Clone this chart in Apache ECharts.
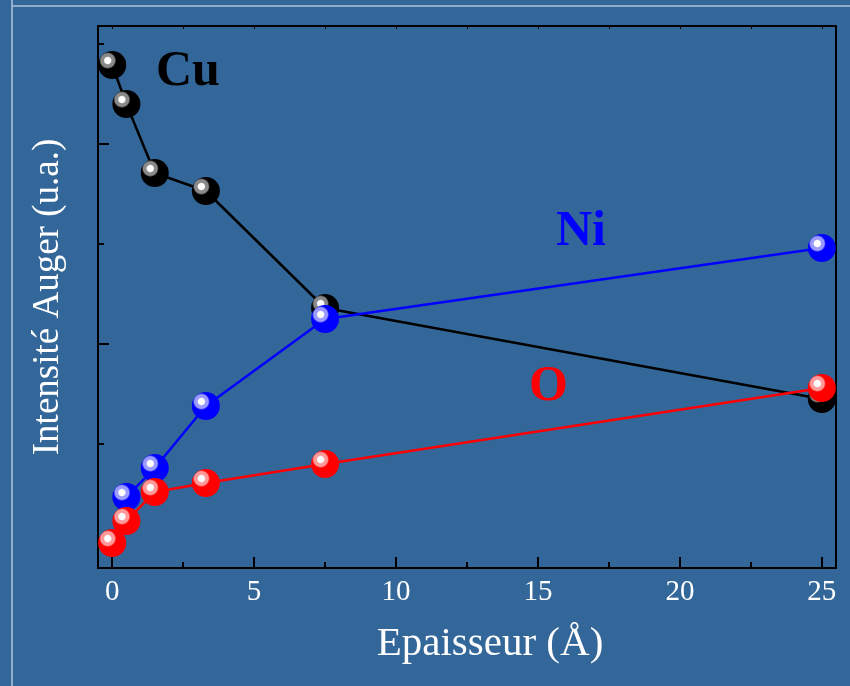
<!DOCTYPE html>
<html>
<head>
<meta charset="utf-8">
<script src="https://cdn.jsdelivr.net/npm/echarts@6/dist/echarts.min.js"></script>
<style>
html,body{margin:0;padding:0;background:#336699;}
#c{width:850px;height:686px;}
</style>
</head>
<body>
<div id="c"></div>
<script>
// Data (thickness in Å, Auger intensity in arbitrary units)
var thickCu = [0, 0.5, 1.5, 3.3, 7.5, 25];
var cuValues = [4.79, 4.40, 3.71, 3.53, 2.36, 1.45];
var thickNi = [0.5, 1.5, 3.3, 7.5, 25];
var niValues = [0.47, 0.76, 1.38, 2.25, 2.96];
var thickO = [0, 0.5, 1.5, 3.3, 7.5, 25];
var oValues = [0.01, 0.23, 0.52, 0.61, 0.80, 1.56];
var xMajorTicks = [0, 5, 10, 15, 20, 25];
var xMinorTicks = [2.5, 7.5, 12.5, 17.5, 22.5];
var xTopTicks = [0, 2.5, 5, 7.5, 10, 12.5, 15, 17.5, 20, 22.5, 25];
var yMajorTicks = [0, 2, 4];
var yMinorTicks = [1, 3, 5];

function pairs(xs, ys) { return xs.map(function (x, i) { return [x, ys[i]]; }); }

function sphere(base, ring) {
  return {
    type: 'radial', x: 0.34, y: 0.34, r: 0.72,
    colorStops: [
      {offset: 0, color: '#ffffff'},
      {offset: 0.15, color: '#ffffff'},
      {offset: 0.21, color: ring},
      {offset: 0.34, color: ring},
      {offset: 0.42, color: base},
      {offset: 1, color: base}
    ]
  };
}

var SERIF = '"Liberation Serif", "DejaVu Serif", serif';
var gridRect = {left: 98, right: 14, top: 26, bottom: 118};
var XMIN = -0.5, XMAX = 25.5, YMIN = -0.24, YMAX = 5.18;

function mkSeries(name, xs, ys, color, ring) {
  return {
    name: name, type: 'line', xAxisIndex: 0, yAxisIndex: 0,
    data: pairs(xs, ys),
    symbol: 'circle', symbolSize: 28,
    lineStyle: {color: color, width: 2.5},
    itemStyle: {color: sphere(color, ring)},
    z: 3
  };
}

var chart = echarts.init(document.getElementById('c'));
chart.setOption({
  backgroundColor: '#336699',
  animation: false,
  grid: [
    Object.assign({}, gridRect),
    Object.assign({}, gridRect),
    Object.assign({}, gridRect)
  ],
  xAxis: [
    {
      type: 'value', gridIndex: 0, position: 'bottom', min: XMIN, max: XMAX,
      axisLine: {show: true, onZero: false, lineStyle: {color: '#000', width: 2}},
      axisTick: {show: true, inside: true, length: 11, customValues: xMajorTicks, lineStyle: {color: '#000', width: 2}},
      axisLabel: {show: true, customValues: xMajorTicks, margin: 10, color: '#ffffff', fontFamily: SERIF, fontSize: 29},
      splitLine: {show: false},
      name: 'Epaisseur (Å)', nameLocation: 'middle', nameGap: 56,
      nameTextStyle: {color: '#ffffff', fontFamily: SERIF, fontSize: 41, padding: [0, 0, 0, 46]}
    },
    {
      type: 'value', gridIndex: 1, position: 'bottom', min: XMIN, max: XMAX,
      axisLine: {show: false, onZero: false},
      axisTick: {show: true, inside: true, length: 6, customValues: xMinorTicks, lineStyle: {color: '#000', width: 2}},
      axisLabel: {show: false}, splitLine: {show: false}
    },
    {
      type: 'value', gridIndex: 2, position: 'top', min: XMIN, max: XMAX,
      axisLine: {show: true, onZero: false, lineStyle: {color: '#000', width: 2}},
      axisTick: {show: true, inside: true, length: 3, customValues: xTopTicks, lineStyle: {color: '#000', width: 1}},
      axisLabel: {show: false}, splitLine: {show: false}
    }
  ],
  yAxis: [
    {
      type: 'value', gridIndex: 0, position: 'left', min: YMIN, max: YMAX,
      axisLine: {show: true, onZero: false, lineStyle: {color: '#000', width: 2}},
      axisTick: {show: true, inside: true, length: 11, customValues: yMajorTicks, lineStyle: {color: '#000', width: 2}},
      axisLabel: {show: false}, splitLine: {show: false},
      name: 'Intensité Auger (u.a.)', nameLocation: 'middle', nameGap: 31, nameRotate: 90,
      nameTextStyle: {color: '#ffffff', fontFamily: SERIF, fontSize: 37}
    },
    {
      type: 'value', gridIndex: 1, position: 'left', min: YMIN, max: YMAX,
      axisLine: {show: false, onZero: false},
      axisTick: {show: true, inside: true, length: 6, customValues: yMinorTicks, lineStyle: {color: '#000', width: 2}},
      axisLabel: {show: false}, splitLine: {show: false}
    },
    {
      type: 'value', gridIndex: 2, position: 'right', min: YMIN, max: YMAX,
      axisLine: {show: true, onZero: false, lineStyle: {color: '#000', width: 2}},
      axisTick: {show: false}, axisLabel: {show: false}, splitLine: {show: false}
    }
  ],
  series: [
    mkSeries('Cu', thickCu, cuValues, '#000000', '#8a8a8a'),
    mkSeries('Ni', thickNi, niValues, '#0000ff', '#9a9aff'),
    mkSeries('O', thickO, oValues, '#ff0000', '#ff9a9a')
  ],
  graphic: [
    {type: 'line', shape: {x1: 12, y1: 0, x2: 12, y2: 686}, style: {stroke: '#8fadcc', lineWidth: 2}, silent: true},
    {type: 'line', shape: {x1: 11, y1: 6, x2: 850, y2: 6}, style: {stroke: '#8fadcc', lineWidth: 2}, silent: true},
    {type: 'text', left: 156, top: 47, style: {text: 'Cu', fill: '#000000', font: 'bold 50px ' + SERIF}},
    {type: 'text', left: 556, top: 207, style: {text: 'Ni', fill: '#0000ff', font: 'bold 50px ' + SERIF}},
    {type: 'text', left: 529, top: 362, style: {text: 'O', fill: '#ff0000', font: 'bold 50px ' + SERIF}}
  ]
});
</script>
</body>
</html>
